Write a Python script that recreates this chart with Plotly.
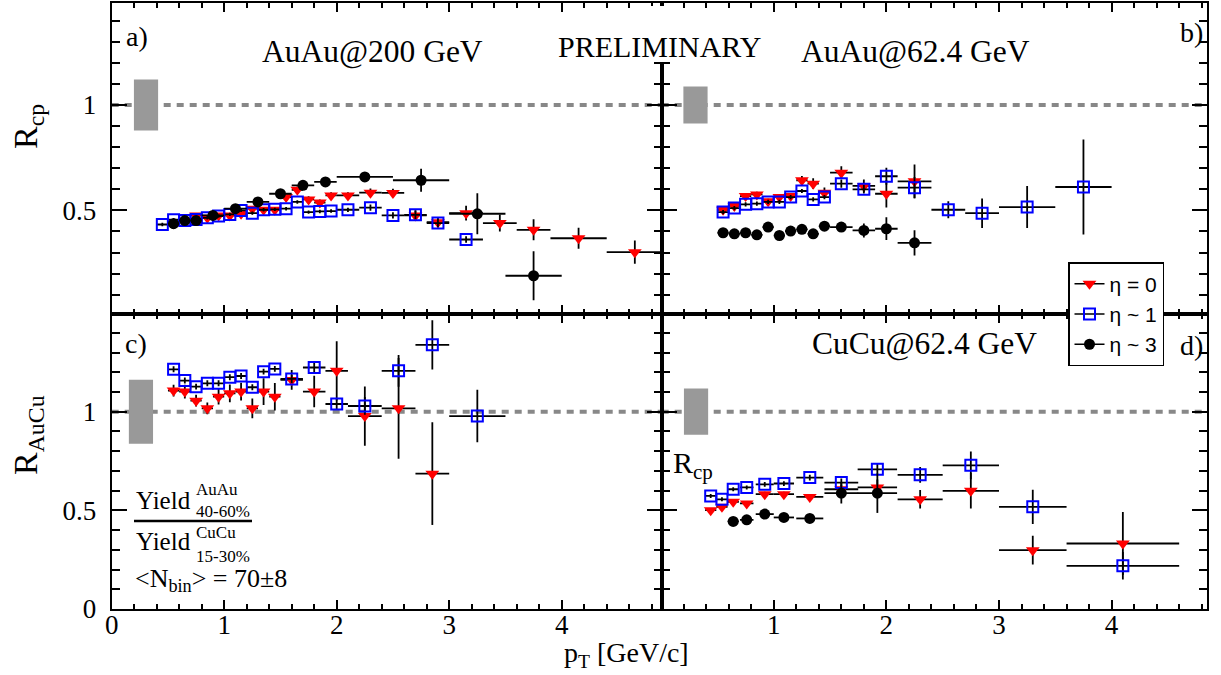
import plotly.graph_objects as go

W, H = 1221, 675
SERIF = "Liberation Serif"
SANS = "Liberation Sans"

# ---------------- data ----------------
# a) AuAu 200 GeV  R_cp
a_tri_x = [0.75, 0.85, 0.95, 1.05, 1.15, 1.25, 1.35, 1.45, 1.55, 1.65, 1.75, 1.85, 1.95,
           2.1, 2.3, 2.5, 2.7, 2.9, 3.15, 3.45, 3.75, 4.15, 4.65]
a_tri_y = [0.476, 0.465, 0.476, 0.476, 0.484, 0.508, 0.503, 0.503, 0.563, 0.598, 0.552, 0.537, 0.571,
           0.571, 0.584, 0.583, 0.476, 0.444, 0.487, 0.44, 0.408, 0.368, 0.302]
a_tri_ey = [0.01] * 8 + [0.015] * 5 + [0.015, 0.02, 0.02, 0.025, 0.025, 0.035, 0.04, 0.05, 0.05, 0.055]
a_tri_ex = [0.05] * 13 + [0.1, 0.1, 0.1, 0.1, 0.1, 0.15, 0.15, 0.15, 0.25, 0.25]

a_sq_x = [0.45, 0.55, 0.65, 0.75, 0.85, 0.95, 1.05, 1.15, 1.25, 1.35, 1.45, 1.55, 1.65, 1.75,
          1.85, 1.95, 2.1, 2.3, 2.5, 2.7, 2.9, 3.15]
a_sq_y = [0.433, 0.456, 0.452, 0.457, 0.465, 0.473, 0.481, 0.5, 0.487, 0.503, 0.505, 0.508, 0.54,
          0.492, 0.495, 0.497, 0.503, 0.513, 0.476, 0.479, 0.44, 0.362]
a_sq_ey = [0.008] * 16 + [0.01, 0.015, 0.015, 0.02, 0.02, 0.015]
a_sq_ex = [0.05] * 16 + [0.1] * 5 + [0.15]

a_ci_x = [0.55, 0.65, 0.75, 0.9, 1.1, 1.3, 1.5, 1.7, 1.9, 2.25, 2.75, 3.25, 3.75]
a_ci_y = [0.437, 0.452, 0.452, 0.476, 0.508, 0.54, 0.579, 0.619, 0.635, 0.659, 0.643, 0.484, 0.19]
a_ci_ey = [0.008] * 6 + [0.01, 0.012, 0.015, 0.02, 0.055, 0.097, 0.116]
a_ci_ex = [0.05, 0.05, 0.05, 0.1, 0.1, 0.1, 0.1, 0.1, 0.1, 0.25, 0.25, 0.25, 0.25]

# b) AuAu 62.4 GeV  R_cp
b_x = [0.55, 0.65, 0.75, 0.85, 0.95, 1.05, 1.15, 1.25, 1.35, 1.45, 1.6, 1.8, 2.0, 2.25]
b_tri_y = [0.503, 0.521, 0.568, 0.576, 0.543, 0.563, 0.568, 0.643, 0.627, 0.584, 0.679, 0.616, 0.579, 0.638]
b_tri_ey = [0.01, 0.01, 0.012, 0.012, 0.012, 0.012, 0.015, 0.02, 0.025, 0.025, 0.03, 0.03, 0.065, 0.08]
b_tri_ex = [0.05] * 10 + [0.1, 0.1, 0.1, 0.15]

b_sq_x = b_x + [2.55, 2.85, 3.25, 3.75]
b_sq_y = [0.492, 0.511, 0.529, 0.532, 0.54, 0.54, 0.563, 0.592, 0.552, 0.563, 0.627, 0.6, 0.662, 0.608,
          0.503, 0.487, 0.516, 0.611]
b_sq_ey = [0.01] * 10 + [0.02, 0.02, 0.04, 0.05, 0.04, 0.07, 0.1, 0.225]
b_sq_ex = [0.05] * 10 + [0.1, 0.1, 0.1, 0.15, 0.15, 0.15, 0.25, 0.25]

b_ci_y = [0.394, 0.389, 0.394, 0.384, 0.421, 0.381, 0.402, 0.41, 0.389, 0.425, 0.421, 0.405, 0.413, 0.346]
b_ci_ey = [0.008] * 10 + [0.015, 0.033, 0.054, 0.06]
b_ci_ex = [0.05] * 10 + [0.1, 0.1, 0.1, 0.15]

# c) R_AuCu
c_x = [0.55, 0.65, 0.75, 0.85, 0.95, 1.05, 1.15, 1.25, 1.35, 1.45, 1.6, 1.8, 2.0, 2.25, 2.55, 2.85]
c_sq_x = c_x + [3.25]
c_sq_y = [1.215, 1.158, 1.127, 1.144, 1.144, 1.175, 1.181, 1.124, 1.203, 1.217, 1.166, 1.224,
          1.039, 1.029, 1.207, 1.339, 0.978]
c_sq_ey = [0.015] * 10 + [0.02, 0.03, 0.03, 0.045, 0.08, 0.125, 0.133]
c_sq_ex = [0.05] * 10 + [0.1, 0.1, 0.1, 0.15, 0.15, 0.15, 0.25]
c_tri_y = [1.107, 1.102, 1.056, 1.017, 1.076, 1.093, 1.102, 1.017, 1.102, 1.076, 1.161, 1.102,
           1.207, 0.978, 1.017, 0.686]
c_tri_ey = [0.03, 0.035, 0.03, 0.03, 0.04, 0.045, 0.045, 0.05, 0.068, 0.07, 0.05, 0.08,
            0.15, 0.15, 0.255, 0.26]
c_tri_ex = [0.05] * 10 + [0.1, 0.1, 0.1, 0.15, 0.15, 0.15]

# d) CuCu 62.4 GeV  R_cp
d_x = [0.44, 0.54, 0.64, 0.76, 0.92, 1.09, 1.32, 1.6, 1.92, 2.3, 2.75, 3.3, 4.1]
d_ex = [0.05, 0.05, 0.05, 0.06, 0.08, 0.09, 0.12, 0.15, 0.175, 0.2, 0.25, 0.3, 0.5]
d_sq_y = [0.573, 0.556, 0.607, 0.616, 0.632, 0.636, 0.666, 0.641, 0.708, 0.68, 0.728, 0.518, 0.219]
d_sq_ey = [0.01, 0.01, 0.01, 0.01, 0.012, 0.012, 0.015, 0.02, 0.03, 0.04, 0.07, 0.087, 0.07]
d_tri_y = [0.501, 0.518, 0.543, 0.535, 0.582, 0.582, 0.568, 0.607, 0.616, 0.556, 0.599, 0.298, 0.332]
d_tri_ey = [0.01, 0.01, 0.01, 0.01, 0.012, 0.012, 0.015, 0.02, 0.04, 0.047, 0.09, 0.073, 0.16]
d_ci_x = [0.64, 0.76, 0.92, 1.09, 1.32, 1.6, 1.92]
d_ci_y = [0.444, 0.452, 0.481, 0.464, 0.459, 0.587, 0.587]
d_ci_ey = [0.01, 0.01, 0.012, 0.012, 0.015, 0.052, 0.1]
d_ci_ex = [0.05, 0.06, 0.08, 0.09, 0.12, 0.15, 0.175]

# normalisation uncertainties (half widths around 1) for panels a, b, c, d
norm_unc = [0.121, 0.088, 0.162, 0.117]
norm_pos = [0.305, 0.305, 0.26, 0.31]

legend_names = ["η = 0", "η ~ 1", "η ~ 3"]

# ---------------- styling ----------------
RED, BLUE, BLACK, GREY = "#ff0000", "#0000ff", "#000000", "#999999"
STY = {
    "tri": dict(symbol="triangle-down", size=12, color=RED, line=dict(width=0)),
    "sq": dict(symbol="square-open", size=11, color=BLUE, line=dict(width=2, color=BLUE)),
    "ci": dict(symbol="circle", size=11, color=BLACK, line=dict(width=0)),
}

fig = go.Figure()


def add_series(x, y, ey, ex, kind, ax):
    xa, ya = ax
    fig.add_trace(go.Scatter(
        x=x, y=y, mode="markers", marker=STY[kind],
        error_y=dict(type="data", array=ey, color=BLACK, thickness=1.8, width=0),
        error_x=dict(type="data", array=ex, color=BLACK, thickness=1.8, width=0),
        xaxis=xa, yaxis=ya, showlegend=False, hoverinfo="skip"))


axes = [("x", "y"), ("x2", "y2"), ("x3", "y3"), ("x4", "y4")]

# normalisation boxes
for (xa, ya), u, p in zip(axes, norm_unc, norm_pos):
    fig.add_trace(go.Bar(x=[p], y=[2 * u], base=[1 - u], width=[0.215],
                         marker=dict(color=GREY, line=dict(width=0)),
                         xaxis=xa, yaxis=ya, showlegend=False, hoverinfo="skip"))

add_series(a_tri_x, a_tri_y, a_tri_ey, a_tri_ex, "tri", axes[0])
add_series(a_sq_x, a_sq_y, a_sq_ey, a_sq_ex, "sq", axes[0])
add_series(a_ci_x, a_ci_y, a_ci_ey, a_ci_ex, "ci", axes[0])

add_series(b_x, b_tri_y, b_tri_ey, b_tri_ex, "tri", axes[1])
add_series(b_sq_x, b_sq_y, b_sq_ey, b_sq_ex, "sq", axes[1])
add_series(b_x, b_ci_y, b_ci_ey, b_ci_ex, "ci", axes[1])

add_series(c_x, c_tri_y, c_tri_ey, c_tri_ex, "tri", axes[2])
add_series(c_sq_x, c_sq_y, c_sq_ey, c_sq_ex, "sq", axes[2])

add_series(d_x, d_tri_y, d_tri_ey, d_ex, "tri", axes[3])
add_series(d_x, d_sq_y, d_sq_ey, d_ex, "sq", axes[3])
add_series(d_ci_x, d_ci_y, d_ci_ey, d_ci_ex, "ci", axes[3])

# legend entries
for name, kind in zip(legend_names, ["tri", "sq", "ci"]):
    fig.add_trace(go.Scatter(x=[None], y=[None], mode="lines+markers", name=name,
                             marker=STY[kind], line=dict(color=BLACK, width=1.5),
                             xaxis="x", yaxis="y"))

# ---------------- layout ----------------
def px_x(p):
    return p / W


def px_y(p):
    return 1 - p / H


XL, XM, XR = px_x(111.7), px_x(661.7), px_x(1206.5)
YT, YM, YB = px_y(3.3), px_y(314), px_y(609)
SCALE_X = 112.5
X_LEFT_MAX = (661.7 - 111.7) / SCALE_X
X_RIGHT_MAX = (1206.5 - 661.7) / SCALE_X
Y_TOP_RANGE = [(315.8 - 314) / 210.8, (315.8 - 3.3) / 210.8]
Y_BOT_RANGE = [0, (609 - 314) / 197.3]


def xax(domain, rng, anchor, labels):
    return dict(domain=domain, range=rng, anchor=anchor, showline=True, linecolor=BLACK,
                linewidth=2, mirror="allticks", ticks="inside", ticklen=9, tickwidth=1.5,
                tickcolor=BLACK, tick0=0, dtick=1, automargin=False,
                minor=dict(ticks="inside", ticklen=5, tickwidth=1.5, tickcolor=BLACK,
                           tick0=0, dtick=0.2),
                showgrid=False, zeroline=False, showticklabels=labels,
                ticklabelstandoff=-9,
                tickfont=dict(family=SERIF, size=27, color=BLACK), fixedrange=True)


def yax(domain, rng, anchor, labels):
    return dict(domain=domain, range=rng, anchor=anchor, showline=True, linecolor=BLACK,
                linewidth=2, mirror="allticks", ticks="inside", ticklen=15, tickwidth=1.5,
                tickcolor=BLACK, tick0=0, dtick=0.5, automargin=False,
                minor=dict(ticks="inside", ticklen=8, tickwidth=1.5, tickcolor=BLACK,
                           tick0=0, dtick=0.1),
                showgrid=False, zeroline=False, showticklabels=labels,
                ticklabelstandoff=8,
                tickfont=dict(family=SERIF, size=27, color=BLACK), fixedrange=True)


shapes = []
for xa, ya in axes:
    shapes.append(dict(type="line", xref=f"{xa} domain", yref=ya, x0=0, x1=1, y0=1, y1=1,
                       line=dict(color="#888888", width=4, dash="7px,6px"), layer="below"))
# white box behind PRELIMINARY (hides the divider top)
shapes.append(dict(type="rect", xref="paper", yref="paper", x0=px_x(642), x1=px_x(680),
                   y0=px_y(62), y1=px_y(6), fillcolor="white", line=dict(width=0), layer="above"))
# fraction bar
shapes.append(dict(type="line", xref="paper", yref="paper", x0=px_x(134), x1=px_x(252),
                   y0=px_y(521), y1=px_y(521), line=dict(color=BLACK, width=2.5), layer="above"))


def ann(text, x, y, size, xanchor="center", yanchor="middle", family=SERIF, angle=0):
    return dict(text=text, x=px_x(x), y=px_y(y), xref="paper", yref="paper", showarrow=False,
                xanchor=xanchor, yanchor=yanchor, textangle=angle,
                font=dict(family=family, size=size, color=BLACK))


annotations = [
    ann("a)", 137, 36, 28),
    ann("AuAu@200 GeV", 372, 52, 31.5),
    ann("PRELIMINARY", 659, 46, 30),
    ann("b)", 1191, 33, 28),
    ann("AuAu@62.4 GeV", 915, 52, 31.5),
    ann("c)", 136, 343, 28),
    ann("CuCu@62.4 GeV", 924, 343, 31.5),
    ann("d)", 1191, 345, 28),
    ann("R<sub>cp</sub>", 693, 465, 30),
    ann("Yield", 134, 500, 25, xanchor="left"),
    ann("AuAu", 194, 489, 17, xanchor="left"),
    ann("40-60%", 194, 511, 17, xanchor="left"),
    ann("Yield", 134, 541, 25, xanchor="left"),
    ann("CuCu", 194, 532, 17, xanchor="left"),
    ann("15-30%", 194, 556, 17, xanchor="left"),
    ann("&lt;N<sub>bin</sub>&gt; = 70±8", 133, 580, 26, xanchor="left"),
    ann("R<sub>cp</sub>", 28, 127, 34, angle=-90),
    ann("R<sub>AuCu</sub>", 28, 435, 34, angle=-90),
    ann("p<sub>T</sub> [GeV/c]", 626, 654, 28),
]

fig.update_layout(
    template="none",
    width=W, height=H, autosize=False, margin=dict(l=0, r=0, t=0, b=0, pad=0, autoexpand=False),
    paper_bgcolor="white", plot_bgcolor="white",
    font=dict(family=SERIF, color=BLACK),
    barmode="overlay",
    xaxis=xax([XL, XM], [0, X_LEFT_MAX], "y", False),
    yaxis=yax([YM, YT], Y_TOP_RANGE, "x", True),
    xaxis2=xax([XM, XR], [0.005, X_RIGHT_MAX], "y2", False),
    yaxis2=yax([YM, YT], Y_TOP_RANGE, "x2", False),
    xaxis3=xax([XL, XM], [0, X_LEFT_MAX], "y3", True),
    yaxis3=yax([YB, YM], Y_BOT_RANGE, "x3", True),
    xaxis4=xax([XM, XR], [0.005, X_RIGHT_MAX], "y4", True),
    yaxis4=yax([YB, YM], Y_BOT_RANGE, "x4", False),
    shapes=shapes, annotations=annotations,
    showlegend=True,
    legend=dict(x=px_x(1068), y=px_y(262), xanchor="left", yanchor="top",
                bgcolor="white", bordercolor=BLACK, borderwidth=1.5,
                font=dict(family=SANS, size=21, color=BLACK), itemwidth=30,
                tracegroupgap=0),
)

fig.write_html("out.html", config={"responsive": False, "displayModeBar": False},
               post_script="document.body.style.margin='0';")
